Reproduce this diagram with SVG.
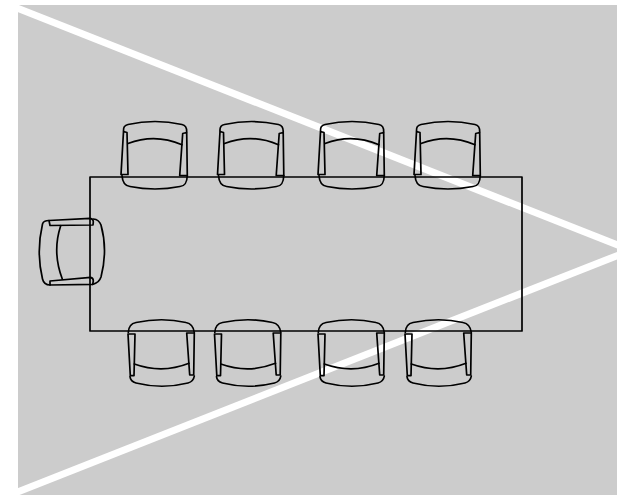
<svg xmlns="http://www.w3.org/2000/svg" xmlns:xlink="http://www.w3.org/1999/xlink" width="617" height="495" viewBox="0 0 617 495">
<style>
.bg{fill:#cccccc}
.beam{stroke:#ffffff;stroke-width:7;fill:none}
.ln{stroke:#000000;stroke-width:1.7;fill:none;stroke-linejoin:round;stroke-linecap:round}
</style>
<defs>
<g id="chair-top" class="ln">
<path d="M123.5,131 Q123,125.5 128,124.5 Q155,118.5 182,124.5 Q187,125.5 186.7,132"/>
<path d="M123.5,131.5 L127,132.5 L128,174.5 L121,174.5 Z"/>
<path d="M182.7,133.5 L186.7,132.5 L187.3,175.5 L179.7,175.5 Z"/>
<path d="M128,143.5 Q155,133 182,144.7"/>
<path d="M122,175.5 C122.5,183 125,186 130,186.5 Q155,191.5 180,186.5 C185,186 187,183 187.3,175.5"/>
</g>
<g id="chair-bottom" class="ln">
<path d="M128.3,332.5 C128.5,326 131,323.5 136,322.5 Q162,317 186,322.5 C191,323.5 193.5,326 194.3,332.5"/>
<path d="M128,334 L135,334 L134,375.7 L130.3,375.7 Z"/>
<path d="M186.7,333 L194.3,333 L193.7,375 L189.7,375 Z"/>
<path d="M134.3,364 Q162,374 189,363.3"/>
<path d="M130,376.7 Q130.5,381.5 136,383 Q162,389.5 188,383 Q193.5,381.5 194.3,376"/>
</g>
</defs>
<rect class="bg" x="18" y="5" width="599" height="490"/>
<g id="beams">
<line class="beam" x1="10" y1="5.3" x2="625" y2="248"/>
<line class="beam" x1="10" y1="495" x2="625" y2="252.5"/>
</g>
<rect id="table" class="ln" x="90" y="177" width="432" height="154"/>
<g id="chairs-top">
<use id="chair-t1" xlink:href="#chair-top"/>
<use id="chair-t2" xlink:href="#chair-top" x="96.5"/>
<use id="chair-t3" xlink:href="#chair-top" x="197"/>
<use id="chair-t4" xlink:href="#chair-top" x="293"/>
</g>
<g id="chairs-bottom">
<use id="chair-b1" xlink:href="#chair-bottom"/>
<use id="chair-b2" xlink:href="#chair-bottom" x="86.5"/>
<use id="chair-b3" xlink:href="#chair-bottom" x="190"/>
<use id="chair-b4" xlink:href="#chair-bottom" x="277"/>
</g>
<g id="chair-head" class="ln">
<path d="M49,220.5 L90,218.3 Q93.5,219 93.3,222 L93,225 L50,225.5 Z"/>
<path d="M50,281 L90.5,277.3 Q93.5,278 93.3,281 L92.7,284.3 L50,285 Z"/>
<path d="M49,220.5 Q43.5,220.5 42.5,224 Q36,252 42.5,279 Q44,285 50,285"/>
<path d="M93.3,219 Q99,219.5 101,225 Q108,250 101,277 Q99,283 92.7,284.3"/>
<path d="M60.7,225.7 Q52,252 62.3,279"/>
</g>
</svg>
